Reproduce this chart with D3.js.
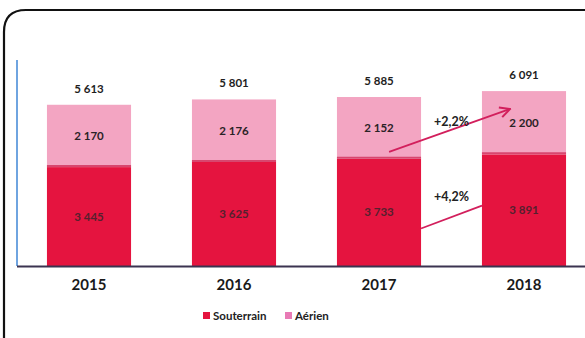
<!DOCTYPE html>
<html>
<head>
<meta charset="utf-8">
<script src="https://cdn.jsdelivr.net/npm/d3@7/dist/d3.min.js"></script>
<style>
  html, body { margin: 0; padding: 0; background: #fff; }
  svg { display: block; font-family: Lato, "Open Sans", sans-serif; }
</style>
</head>
<body>
<svg id="chart" width="585" height="338"></svg>
<script>
// Réseau électrique (km) par année
const years = ["2015", "2016", "2017", "2018"];
const souterrain = [3445, 3625, 3733, 3891];
const aerien = [2170, 2176, 2152, 2200];
const totals = [5613, 5801, 5885, 6091];
const totalLabels = ["5 613", "5 801", "5 885", "6 091"];
const seriesNames = ["Souterrain", "Aérien"];
const growthLabels = ["+2,2%", "+4,2%"];

const colSout = "#e5143f";
const colAer = "#f3a5c2";
const fmt = v => d3.format(",")(v).replace(/,/g, "\u202f");

const svg = d3.select("#chart");

// Cadre arrondi
svg.append("path")
  .attr("d", "M4,338 L4,32 Q4,10 26,10 L590,10")
  .attr("fill", "none")
  .attr("stroke", "#111")
  .attr("stroke-width", 2.2);

const x = d3.scaleBand()
  .domain(years)
  .range([16.5, 596.5])
  .paddingInner(0.42)
  .paddingOuter(0.21);

const y = d3.scaleLinear().domain([0, 7000]).range([266, 65]);

const rows = years.map((yr, i) => ({ yr, s: souterrain[i], a: aerien[i], t: totals[i], tl: totalLabels[i] }));

// Segments Souterrain
svg.append("g").selectAll("rect").data(rows).join("rect")
  .attr("x", d => x(d.yr))
  .attr("width", x.bandwidth())
  .attr("y", d => y(d.s))
  .attr("height", d => y(0) - y(d.s))
  .attr("fill", colSout);

// Segments Aérien
svg.append("g").selectAll("rect").data(rows).join("rect")
  .attr("x", d => x(d.yr))
  .attr("width", x.bandwidth())
  .attr("y", d => y(d.s + d.a))
  .attr("height", d => y(d.s) - y(d.s + d.a))
  .attr("fill", colAer);

// Liseré entre les deux segments
svg.append("g").selectAll("line").data(rows).join("line")
  .attr("x1", d => x(d.yr))
  .attr("x2", d => x(d.yr) + x.bandwidth())
  .attr("y1", d => y(d.s) - 1)
  .attr("y2", d => y(d.s) - 1)
  .attr("stroke", "#d8466e")
  .attr("stroke-width", 2);

// Axe vertical et ligne de base
svg.append("line")
  .attr("x1", 17).attr("x2", 17)
  .attr("y1", 60).attr("y2", y(0))
  .attr("stroke", "#3f86d6").attr("stroke-width", 1.5);

const xAxis = svg.append("g")
  .attr("transform", `translate(0,${y(0)})`)
  .call(d3.axisBottom(x).tickSize(0).tickPadding(13));
xAxis.select(".domain")
  .attr("d", `M17,0.5H585`)
  .attr("stroke", "#3b3350")
  .attr("stroke-width", 1.8);
xAxis.selectAll("text")
  .attr("font-size", 15)
  .attr("font-weight", 700)
  .attr("fill", "#1a1a1a")
  .attr("font-family", "Lato, sans-serif");

// Valeurs dans les segments
svg.append("g").selectAll("text").data(rows).join("text")
  .attr("x", d => x(d.yr) + x.bandwidth() / 2)
  .attr("y", d => (y(d.s) + y(d.s + d.a)) / 2)
  .attr("dy", "0.35em")
  .attr("text-anchor", "middle")
  .attr("font-size", 11.5)
  .attr("font-weight", 700)
  .attr("fill", "#2a2226")
  .text(d => fmt(d.a));

svg.append("g").selectAll("text").data(rows).join("text")
  .attr("x", d => x(d.yr) + x.bandwidth() / 2)
  .attr("y", d => (y(0) + y(d.s)) / 2)
  .attr("dy", "0.35em")
  .attr("text-anchor", "middle")
  .attr("font-size", 11.5)
  .attr("font-weight", 700)
  .attr("fill", "#55202e")
  .text(d => fmt(d.s));

// Totaux au-dessus des barres
svg.append("g").selectAll("text").data(rows).join("text")
  .attr("x", d => x(d.yr) + x.bandwidth() / 2)
  .attr("y", d => y(d.t) - 16)
  .attr("dy", "0.35em")
  .attr("text-anchor", "middle")
  .attr("font-size", 11.5)
  .attr("font-weight", 700)
  .attr("fill", "#1e1e1e")
  .text(d => d.tl);

// Flèches d'évolution 2017 → 2018
const defs = svg.append("defs");
defs.append("marker")
  .attr("id", "head")
  .attr("viewBox", "0 0 10 10")
  .attr("refX", 8).attr("refY", 5)
  .attr("markerWidth", 7).attr("markerHeight", 7)
  .attr("orient", "auto")
  .append("path")
  .attr("d", "M1,1 L9,5 L1,9")
  .attr("fill", "none")
  .attr("stroke", "#d21f5c")
  .attr("stroke-width", 1.6);

const b17 = x("2017"), b18 = x("2018"), bw = x.bandwidth();
const i17 = 2, i18 = 3;
const arrows = [
  { x1: b17 + bw * 0.62, y1: y(souterrain[i17]) - 7,
    x2: b18 + bw * 0.32, y2: y(souterrain[i18] + aerien[i18] * 0.71),
    label: growthLabels[0], head: true },
  { x1: b17 + bw, y1: y(souterrain[i17] * 0.35),
    x2: b18, y2: y(souterrain[i18] * 0.54),
    label: growthLabels[1], head: false }
];
svg.append("g").selectAll("line").data(arrows).join("line")
  .attr("x1", d => d.x1).attr("y1", d => d.y1)
  .attr("x2", d => d.x2).attr("y2", d => d.y2)
  .attr("stroke", "#d21f5c")
  .attr("stroke-width", 1.8)
  .attr("marker-end", d => d.head ? "url(#head)" : null);

svg.append("g").selectAll("text").data(arrows).join("text")
  .attr("x", (b17 + bw + b18) / 2)
  .attr("y", (d, i) => i === 0 ? 122 : 197)
  .attr("dy", "0.35em")
  .attr("text-anchor", "middle")
  .attr("font-size", 12.5)
  .attr("font-weight", 700)
  .attr("fill", "#222")
  .text(d => d.label);

// Légende
const legend = svg.append("g").attr("transform", "translate(203,316)");
const legItems = [
  { name: seriesNames[0], color: colSout, x: 0 },
  { name: seriesNames[1], color: "#e87ab5", x: 82 }
];
const li = legend.selectAll("g").data(legItems).join("g")
  .attr("transform", d => `translate(${d.x},0)`);
li.append("rect")
  .attr("x", 0).attr("y", -4)
  .attr("width", 7).attr("height", 7)
  .attr("fill", d => d.color);
li.append("text")
  .attr("x", 10).attr("y", 0)
  .attr("dy", "0.33em")
  .attr("font-size", 11.5)
  .attr("font-weight", 700)
  .attr("fill", "#222")
  .text(d => d.name);
</script>
</body>
</html>
